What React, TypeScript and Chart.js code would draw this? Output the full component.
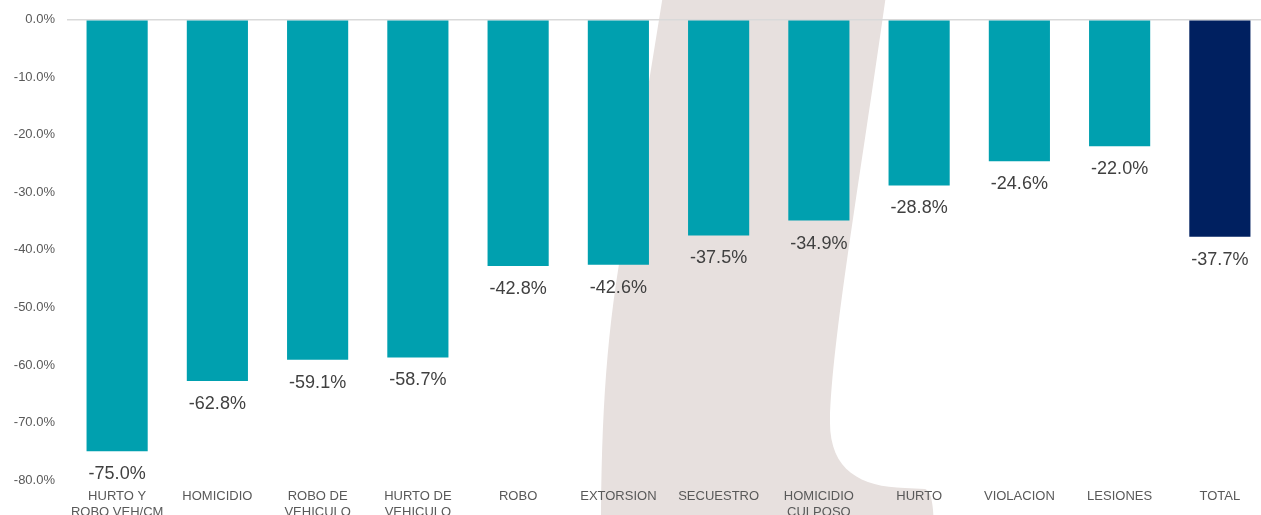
import React, { useEffect, useRef } from "react";
import { Chart, registerables } from "chart.js";

Chart.register(...registerables);

const categories: string[][] = [
  ["HURTO Y", "ROBO VEH/CM"],
  ["HOMICIDIO"],
  ["ROBO DE", "VEHICULO"],
  ["HURTO DE", "VEHICULO"],
  ["ROBO"],
  ["EXTORSION"],
  ["SECUESTRO"],
  ["HOMICIDIO", "CULPOSO"],
  ["HURTO"],
  ["VIOLACION"],
  ["LESIONES"],
  ["TOTAL"],
];

const changes: number[] = [-75.0, -62.8, -59.1, -58.7, -42.8, -42.6, -37.5, -34.9, -28.8, -24.6, -22.0, -37.7];

const barColors: string[] = [
  "#00A0AF", "#00A0AF", "#00A0AF", "#00A0AF", "#00A0AF", "#00A0AF",
  "#00A0AF", "#00A0AF", "#00A0AF", "#00A0AF", "#00A0AF", "#002060",
];

const yMin = -80;
const yMax = 0;
const yStep = 10;

const FONT = "'Liberation Sans', Arial, sans-serif";

const watermarkPlugin = {
  id: "watermark",
  beforeDraw(chart: any) {
    const ctx = chart.ctx as CanvasRenderingContext2D;
    ctx.save();
    ctx.fillStyle = "#ffffff";
    ctx.fillRect(0, 0, chart.width, chart.height);
    ctx.fillStyle = "#E7E0DE";
    ctx.beginPath();
    ctx.moveTo(663, -5);
    ctx.lineTo(886, -5);
    ctx.bezierCurveTo(860, 180, 832, 340, 830, 420);
    ctx.bezierCurveTo(829, 470, 860, 487, 905, 488);
    ctx.lineTo(925, 489);
    ctx.bezierCurveTo(932, 492, 934, 505, 934, 540);
    ctx.lineTo(601, 540);
    ctx.bezierCurveTo(601, 420, 606, 330, 625, 230);
    ctx.closePath();
    ctx.fill();
    ctx.restore();
  },
};

const valueLabelPlugin = {
  id: "valueLabels",
  afterDatasetsDraw(chart: any) {
    const ctx = chart.ctx as CanvasRenderingContext2D;
    const meta = chart.getDatasetMeta(0);
    ctx.save();
    ctx.font = `18px ${FONT}`;
    ctx.fillStyle = "#404040";
    ctx.textAlign = "center";
    ctx.textBaseline = "middle";
    meta.data.forEach((bar: any, i: number) => {
      const v = changes[i];
      ctx.fillText(v.toFixed(1) + "%", bar.x, bar.y + 23);
    });
    ctx.restore();
  },
};

export default function App() {
  const canvasRef = useRef<HTMLCanvasElement | null>(null);

  useEffect(() => {
    document.body.style.margin = "0";
    const canvas = canvasRef.current;
    if (!canvas) return;
    const chart = new Chart(canvas, {
      type: "bar",
      data: {
        labels: categories,
        datasets: [
          {
            data: changes,
            backgroundColor: barColors,
            borderWidth: 0,
            categoryPercentage: 1,
            barPercentage: 0.61,
          },
        ],
      },
      options: {
        responsive: false,
        animation: false,
        devicePixelRatio: 1,
        layout: { padding: { top: 17, left: 0, right: 0, bottom: 0 } },
        plugins: {
          legend: { display: false },
          tooltip: { enabled: false },
        },
        scales: {
          x: {
            grid: { display: false, drawTicks: false },
            border: { display: false },
            ticks: {
              color: "#595959",
              font: { family: FONT, size: 13, lineHeight: 1.23 },
              padding: 8,
              maxRotation: 0,
              minRotation: 0,
              autoSkip: false,
            },
            afterFit(scale: any) {
              scale.height = 50;
            },
          },
          y: {
            min: yMin,
            max: yMax,
            grid: {
              drawTicks: false,
              lineWidth: 1.5,
              color: (c: any) => (c.tick && c.tick.value === 0 ? "#D9D9D9" : "rgba(0,0,0,0)"),
            },
            border: { display: false },
            ticks: {
              stepSize: yStep,
              color: "#595959",
              font: { family: FONT, size: 13 },
              padding: 12,
              callback: (v: any) => Number(v).toFixed(1) + "%",
            },
            afterFit(scale: any) {
              scale.width = 67;
            },
          },
        },
      },
      plugins: [watermarkPlugin, valueLabelPlugin],
    });
    return () => chart.destroy();
  }, []);

  return (
    <div
      style={{
        position: "fixed",
        left: 0,
        top: 0,
        width: 1261,
        height: 515,
        overflow: "hidden",
        background: "#ffffff",
      }}
    >
      <canvas ref={canvasRef} width={1270} height={530} style={{ display: "block" }} />
    </div>
  );
}
